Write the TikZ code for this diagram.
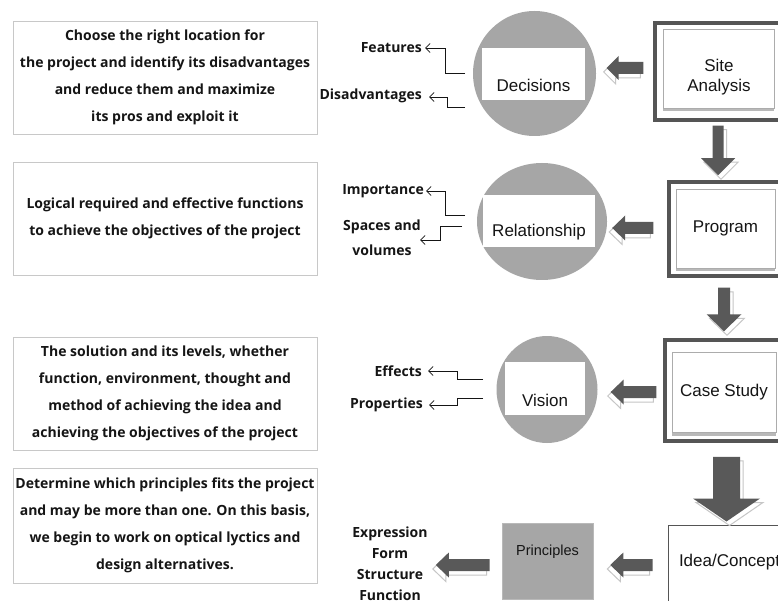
\documentclass[tikz,border=0pt]{standalone}
\usepackage{fontspec}
\setmainfont{Liberation Sans}
\newfontfamily\osfont{Open Sans}
\usetikzlibrary{calc,arrows.meta,shapes.geometric,shadows}
\definecolor{circgray}{HTML}{A6A6A6}
\definecolor{arrdark}{HTML}{595959}
\definecolor{framedark}{HTML}{555555}
\definecolor{boxline}{HTML}{C8C8C8}
\definecolor{txt}{HTML}{151515}
\newcommand\blockarrow[7]{%
  \coordinate (bah) at ($(#2)!#5!(#1)$);
  \begin{scope}[transform canvas={xshift=#6,yshift=#7}]
  \path[fill=white, draw=gray!45, line width=1pt]
    ($(#1)!#3!90:(#2)$) -- ($(bah)!#3!-90:(#1)$) -- ($(bah)!#4!-90:(#1)$) -- (#2)
    -- ($(bah)!#4!90:(#1)$) -- ($(bah)!#3!90:(#1)$) -- ($(#1)!#3!-90:(#2)$) -- cycle;
  \end{scope}
  \path[fill=arrdark]
    ($(#1)!#3!90:(#2)$) -- ($(bah)!#3!-90:(#1)$) -- ($(bah)!#4!-90:(#1)$) -- (#2)
    -- ($(bah)!#4!90:(#1)$) -- ($(bah)!#3!90:(#1)$) -- ($(#1)!#3!-90:(#2)$) -- cycle;
}
\begin{document}
\begin{tikzpicture}[x=1pt,y=-1pt,
  leftbox/.style={draw=boxline, line width=0.8pt, fill=white, minimum width=304pt,
    align=center, inner sep=0pt, text=txt, font=\osfont\bfseries\fontsize{14}{27}\selectfont},
  lbl/.style={inner sep=0pt, text=txt, align=center, font=\osfont\bfseries\fontsize{14}{25}\selectfont},
  circ/.style={ellipse, fill=circgray, inner sep=0pt},
  wbox/.style={rectangle, fill=white, inner sep=0pt, text=txt, font=\fontsize{17}{20}\selectfont},
  outframe/.style={rectangle, draw=framedark, line width=3.5pt, fill=white, inner sep=0pt},
  ibox/.style={rectangle, draw=gray!65, line width=0.8pt, fill=white, inner sep=0pt,
    drop shadow={shadow xshift=0pt, shadow yshift=-3.5pt, fill=gray!55, opacity=1}},
  conn/.style={draw=txt, line width=0.8pt, -{Straight Barb[length=4.5pt,width=9pt]}}
]
\useasboundingbox (0,0) rectangle (778,601);
\clip (0,0) rectangle (778,601);
\fill[white] (0,0) rectangle (778,601);

% left description boxes
\node[leftbox, minimum height=113pt] (t1) at (165,77.5)
  {Choose the right location for\\the project and identify its disadvantages\\and reduce them and maximize\\its pros and exploit it};
\node[leftbox, minimum height=113pt] (t2) at (165,218.5)
  {Logical required and effective functions\\to achieve the objectives of the project};
\node[leftbox, minimum height=113pt] (t3) at (165,393.5)
  {The solution and its levels, whether\\function, environment, thought and\\method of achieving the idea and\\achieving the objectives of the project};
\node[leftbox, minimum height=115pt] (t4) at (165,525.5)
  {Determine which principles fits the project\\and may be more than one. On this basis,\\we begin to work on optical lyctics and\\design alternatives.};

% circles
\node[circ, minimum width=123pt, minimum height=125pt] (c1) at (534.5,73.5) {};
\node[wbox, minimum width=103pt, minimum height=52pt, text height=38pt, text depth=2pt] (r1) at (533.5,74) {Decisions};
\node[circ, minimum width=130pt, minimum height=117pt] (c2) at (542,221.5) {};
\node[wbox, minimum width=112pt, minimum height=52pt, text height=34pt, text depth=2pt] (r2) at (539,221) {Relationship};
\node[circ, minimum width=101pt, minimum height=107pt] (c3) at (547,389.5) {};
\node[wbox, minimum width=80pt, minimum height=53pt, text height=37pt, text depth=2pt] (r3) at (545,388.5) {Vision};

% right framed boxes
\node[outframe, minimum width=145pt, minimum height=97pt] (saout) at (727.5,71.5) {};
\node[ibox, minimum width=111pt, minimum height=79pt] (sa) at (718.5,68.5) {};
\node[wbox, fill=none, align=center] (satext) at (719,77) {Site\\Analysis};

\node[outframe, minimum width=131pt, minimum height=94pt] (progout) at (734.5,229) {};
\node[ibox, minimum width=99pt, minimum height=79pt, text=txt, font=\fontsize{17}{20}\selectfont] (prog) at (725.5,228.5) {Program};

\node[outframe, minimum width=135pt, minimum height=101pt] (csout) at (732.5,390.5) {};
\node[ibox, minimum width=104pt, minimum height=80pt, text=txt, font=\fontsize{17}{20}\selectfont] (cs) at (724,392) {Case Study};

\node[rectangle, draw=framedark, line width=1pt, fill=white, minimum width=132pt, minimum height=95pt,
  inner sep=0pt, text width=110pt, align=left, text height=13pt, text depth=25pt, text=txt,
  font=\fontsize{17}{20}\selectfont] (idea) at (734,572.5) {Idea/Concept};

\node[rectangle, fill=circgray, draw=gray!55, line width=0.6pt, minimum width=91pt, minimum height=76pt,
  inner sep=0pt, text height=10pt, text depth=22pt, text=txt, font=\fontsize{14.5}{17}\selectfont] (pr) at (547.5,561) {Principles};

\node[lbl, font=\osfont\bfseries\fontsize{14}{21}\selectfont] (expr) at (390,563.5) {Expression\\Form\\Structure\\Function};

% labels
\node[lbl, anchor=east] (feat) at (422,48) {Features};
\node[lbl, anchor=east] (dis) at (422,96) {Disadvantages};
\node[lbl, anchor=east] (imp) at (424,191) {Importance};
\node[lbl] (spc) at (382,237.5) {Spaces and\\volumes};
\node[lbl, anchor=east] (eff) at (422,371) {Effects};
\node[lbl, anchor=east] (prop) at (423,405) {Properties};

% label connectors
\coordinate (f1) at (465,73);
\draw[conn] (f1) -- ++(-20,0) |- ([xshift=3pt]feat.east);
\coordinate (f2) at (465,107);
\draw[conn] (f2) -- ++(-18,0) |- ([xshift=7pt,yshift=-1pt]dis.east);
\coordinate (f3) at (465,215);
\draw[conn] (f3) -- ++(-20,0) |- ([xshift=2pt]imp.east);
\coordinate (f4) at (462,226);
\draw[conn] (f4) -- ++(-22,0) |- ([xshift=-1pt,yshift=-2.5pt]spc.east);
\coordinate (f5) at (483,379);
\draw[conn] (f5) -- ++(-26,0) |- ([xshift=6pt]eff.east);
\coordinate (f6) at (483,398);
\draw[conn] (f6) -- ++(-26,0) |- ([xshift=6pt]prop.east);

% block arrows (left)
\coordinate (a1s) at ($(saout.west)+(-10,-3.5)$);
\coordinate (a1e) at ($(c1.east |- a1s)+(10.5,0)$);
\blockarrow{a1s}{a1e}{6pt}{12pt}{12pt}{-3pt}{-4pt}
\coordinate (a2s) at ($(progout.west)+(-14,-1)$);
\coordinate (a2e) at ($(c2.east |- a2s)+(5,0)$);
\blockarrow{a2s}{a2e}{6pt}{12.5pt}{13pt}{-3pt}{-4pt}
\coordinate (a3s) at ($(csout.west)+(-7,1.5)$);
\coordinate (a3e) at ($(c3.east |- a3s)+(13,0)$);
\blockarrow{a3s}{a3e}{6pt}{12.5pt}{13pt}{-3pt}{-4pt}
\coordinate (a4s) at ($(idea.west)+(-15,-7.5)$);
\coordinate (a4e) at ($(pr.east |- a4s)+(17,0)$);
\blockarrow{a4s}{a4e}{6pt}{12.5pt}{13pt}{-3pt}{-4pt}
\coordinate (a5s) at ($(pr.west)+(-12,4)$);
\coordinate (a5e) at ($(expr.east |- a5s)+(8,0)$);
\blockarrow{a5s}{a5e}{6pt}{12.5pt}{13pt}{-3pt}{-4pt}

% block arrows (down)
\coordinate (d1s) at ($(saout.south)+(-9.5,4)$);
\coordinate (d1e) at ($(d1s |- progout.north)+(0,-5)$);
\blockarrow{d1s}{d1e}{5.5pt}{17pt}{17pt}{3pt}{-4pt}
\coordinate (d2s) at ($(progout.south)+(-10.5,10)$);
\coordinate (d2e) at ($(d2s |- csout.north)+(0,-7)$);
\blockarrow{d2s}{d2e}{6pt}{17.5pt}{17pt}{3pt}{-4pt}
\coordinate (d3s) at ($(csout.south)+(-6,14)$);
\coordinate (d3e) at ($(d3s |- idea.north)+(0,-3)$);
\blockarrow{d3s}{d3e}{13.5pt}{33.5pt}{23pt}{3pt}{-4pt}
\end{tikzpicture}
\end{document}
